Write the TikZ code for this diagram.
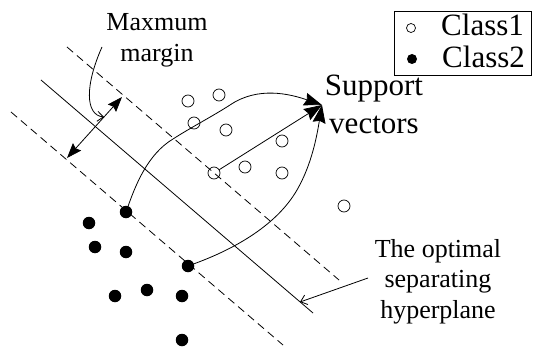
\documentclass[tikz,border=0pt]{standalone}
\usepackage{fontspec}
\setmainfont{Liberation Serif}
\usetikzlibrary{arrows.meta}
\begin{document}
\begin{tikzpicture}[x=1pt,y=-1pt,
  classone/.style={circle,draw,line width=0.7pt,minimum size=12pt,inner sep=0pt},
  classtwo/.style={circle,fill=black,minimum size=12.5pt,inner sep=0pt},
  thinline/.style={line width=0.8pt},
  margin line/.style={thinline,dash pattern=on 8pt off 5pt},
  bighead/.style={thinline,-{Stealth[length=18pt,width=13pt,inset=2pt]}},
  pointer/.style={thinline,-{Straight Barb[length=6pt,width=10pt]}},
  lbl/.style={inner sep=0pt,align=center,font=\fontsize{26}{31}\selectfont},
  big/.style={inner sep=0pt,font=\fontsize{31}{32}\selectfont}]
\useasboundingbox (0,0) rectangle (535,350);

% hyperplane and margin boundaries
\coordinate (h1) at (41,80);   \coordinate (h2) at (313,313);
\coordinate (u1) at (67,47);   \coordinate (u2) at (339,280);
\coordinate (l1) at (11,112);  \coordinate (l2) at (283,345);
\draw[thinline] (h1) -- (h2);
\draw[margin line] (u1) -- (u2);
\draw[margin line] (l1) -- (l2);

% class 1 samples
\node[classone] (p1) at (188,101) {};
\node[classone] (p2) at (219,95) {};
\node[classone] (p3) at (194,123) {};
\node[classone] (p4) at (226,130) {};
\node[classone] (p5) at (282,141) {};
\node[classone] (psv) at (214,173) {};
\node[classone] (p6) at (245,167) {};
\node[classone] (p7) at (282,173) {};
\node[classone] (p8) at (344,206) {};

% class 2 samples
\node[classtwo] (nsv1) at (126,212) {};
\node[classtwo] (n1) at (89,223) {};
\node[classtwo] (n2) at (95,247) {};
\node[classtwo] (n3) at (126,252) {};
\node[classtwo] (nsv2) at (188,266) {};
\node[classtwo] (n4) at (115,296) {};
\node[classtwo] (n5) at (147,290) {};
\node[classtwo] (n6) at (182,296) {};
\node[classtwo] (n7) at (182,340) {};

% margin width
\coordinate (m1) at (67,158);
\coordinate (m2) at (122,97);
\draw[thinline,{Stealth[length=15pt,width=11pt,inset=2pt]}-{Stealth[length=15pt,width=11pt,inset=2pt]}] (m1) -- (m2);

% labels (base anchor = baseline of the last line)
\node[lbl,anchor=base] (mm) at (157,62) {Maxmum\\margin};
\node[big,align=center,anchor=base,font=\fontsize{31}{37}\selectfont] (sv) at (374,133) {Support\\vectors};
\node[lbl,anchor=base,font=\fontsize{26}{30.5}\selectfont] (hp) at (438,318) {The optimal\\separating\\hyperplane};

% pointers
\coordinate (mmfrom) at (102,47);
\coordinate (mmto) at (104,117);
\draw[pointer] (mmfrom) .. controls (85,85) and (85,115) .. (mmto);
\coordinate (hpfrom) at (368,278);
\coordinate (hpto) at (300,302);
\draw[pointer] (hpfrom) -- (hpto);

% support vector arrows
\coordinate (tip) at (322,105);
\coordinate (sa) at (173,139);
\coordinate (sb) at (230,105);
\coordinate (sc) at (297,190);
\draw[bighead] (nsv1) .. controls (136,184) and (148,154) .. (sa)
  .. controls (190,128) and (213,116) .. (sb)
  .. controls (258,86) and (290,94) .. (tip);
\draw[bighead] (psv) -- (tip);
\draw[bighead] (nsv2) .. controls (229,251) and (275,228) .. (sc)
  .. controls (312,164) and (317,135) .. (tip);

% legend
\draw[line width=1pt] (394,12) rectangle (531,76);
\node[circle,draw,line width=0.7pt,minimum size=9pt,inner sep=0pt] (lk1) at (411,28) {};
\node[circle,fill=black,minimum size=10pt,inner sep=0pt] (lk2) at (412,59) {};
\node[big,anchor=base west] (lt1) at (441,36) {Class1};
\node[big,anchor=base west] (lt2) at (442,68) {Class2};
\end{tikzpicture}
\end{document}
